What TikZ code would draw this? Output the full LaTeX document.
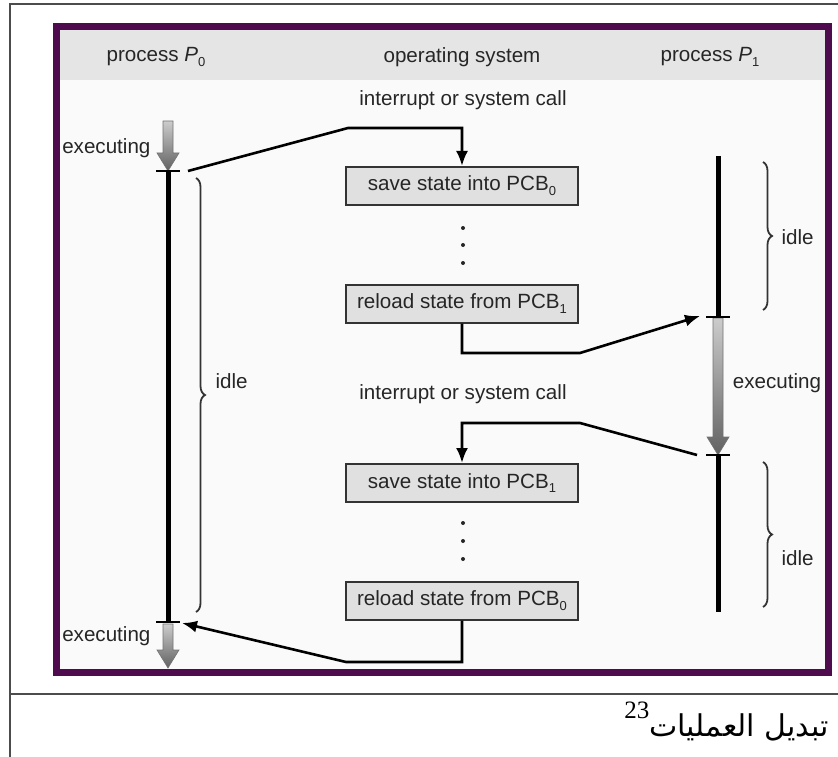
\documentclass[tikz,border=0pt]{standalone}
\usepackage{fontspec}
\setmainfont{Liberation Sans}
\newfontfamily\arabicfont[Script=Arabic]{DejaVu Sans}
\newfontfamily\capnum{Liberation Serif}
\TeXXeTstate=1
\usetikzlibrary{arrows.meta, decorations.pathreplacing}
\definecolor{framepurple}{RGB}{78,12,78}
\newcommand{\idx}[1]{\raisebox{-0.45ex}{\fontsize{13}{13}\selectfont #1}}

\begin{document}
\begin{tikzpicture}[x=1pt,y=-1pt,
	every node/.style={font=\fontsize{20.6}{24}\selectfont, text=black!85},
	osbox/.style={draw=black!80, line width=2pt, fill=black!12, minimum width=232pt, minimum height=38pt, inner sep=0pt},
	link/.style={line width=2.6pt, -{Latex[length=15pt,width=12pt]}},
	timeline/.style={line width=5pt},
	tick/.style={line width=2.4pt},
	idlebrace/.style={decorate, decoration={brace, amplitude=9pt}, line width=1.8pt, black!80},
	runarrow/.style={top color=black!20, bottom color=black!62, draw=black!55, line width=0.6pt}]
	\useasboundingbox (0,0) rectangle (838,757);
	\draw[black!70, line width=1.5pt] (838,4) -- (10,4) -- (10,757);
	\draw[black!70, line width=1.5pt] (10,694) -- (838,694);
	\fill[black!2] (60,30) rectangle (825,669);
	\fill[black!10] (60,30) rectangle (825,80);
	\draw[framepurple, line width=7pt] (56.5,26.5) rectangle (828.5,672.5);
	\node (head0) at (156,57) {process {\itshape P}\idx{0}};
	\node (heados) at (462,57) {operating system};
	\node (head1) at (710,57) {process {\itshape P}\idx{1}};
	\node (irq0) at (463,100) {interrupt or system call};
	\node (irq1) at (463,394) {interrupt or system call};
	\node[osbox] (save0) at (462,186) {save state into PCB\idx{0}};
	\node[osbox] (reload1) at (462,303.5) {reload state from PCB\idx{1}};
	\node[osbox] (save1) at (462,483) {save state into PCB\idx{1}};
	\node[osbox] (reload0) at (462,600.5) {reload state from PCB\idx{0}};
	\foreach \y in {228,245,263,523,541,559}
		\fill[black!85] (463,\y) circle (2pt);
	\shade[runarrow] (163,121) -- (173,121) -- (173,153) -- (179,153) -- (168,171) -- (157,153) -- (163,153) -- cycle;
	\shade[runarrow] (163,624) -- (173,624) -- (173,650) -- (179,650) -- (168,668) -- (157,650) -- (163,650) -- cycle;
	\shade[runarrow] (713,318) -- (723,318) -- (723,437) -- (729,437) -- (718,455) -- (707,437) -- (713,437) -- cycle;
	\coordinate (p0start) at (168,171);
	\coordinate (p0stop) at (168,622);
	\coordinate (p1start) at (718,317);
	\coordinate (p1stop) at (718,455);
	\draw[timeline] (p0start) -- (p0stop);
	\draw[timeline] (718,156) -- (p1start);
	\draw[timeline] (p1stop) -- (718,612);
	\draw[tick] (156,171) -- (180,171);
	\draw[tick] (156,622) -- (180,622);
	\draw[tick] (706,317) -- (730,317);
	\draw[tick] (706,455) -- (730,455);
	\node[anchor=east] (exec0) at (154,148) {executing};
	\node[anchor=east] (exec0b) at (154,636) {executing};
	\node (exec1) at (777,383) {executing};
	\draw[idlebrace] (196,178) -- (196,612);
	\node[anchor=west] (idle0) at (212,381) {idle};
	\draw[idlebrace] (763,162) -- (763,310);
	\node[anchor=west] (idle1) at (778,237) {idle};
	\draw[idlebrace] (763,462) -- (763,607);
	\node[anchor=west] (idle1b) at (778,558) {idle};
	\coordinate (leave0) at (188,171);
	\coordinate (bend0) at (348,128);
	\coordinate (bend1) at (580,353);
	\coordinate (enter1) at (700,316);
	\coordinate (leave1) at (697,455);
	\coordinate (bend2) at (580,423);
	\coordinate (bend3) at (346,662);
	\coordinate (enter0) at (182,623);
	\draw[link] (leave0) -- (bend0) -| (save0.north);
	\draw[link] (reload1.south) |- (bend1) -- (enter1);
	\draw[link] (leave1) -- (bend2) -| (save1.north);
	\draw[link] (reload0.south) |- (bend3) -- (enter0);
	\node[anchor=base east, font=\fontsize{30}{34}\selectfont, text=black, inner sep=0pt] (caption) at (829,736) {\raisebox{0.6em}{\capnum\fontsize{25}{25}\selectfont 23}\arabicfont\beginR تبديل العمليات\endR};
\end{tikzpicture}
\end{document}
